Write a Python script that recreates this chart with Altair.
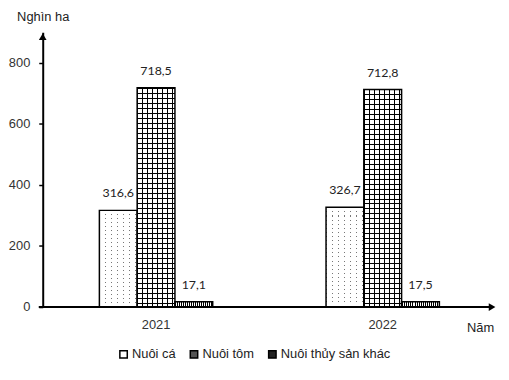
import altair as alt
import pandas as pd

years = ["2021", "2022"]
series = ["Nuôi cá", "Nuôi tôm", "Nuôi thủy sản khác"]
vals_2021 = [316.6, 718.5, 17.1]
vals_2022 = [326.7, 712.8, 17.5]
y_ticks = [0, 200, 400, 600, 800]

rows = []
for yr, vals in zip(years, [vals_2021, vals_2022]):
    for s, v in zip(series, vals):
        rows.append({"year": yr, "series": s, "value": v,
                     "label": f"{v:.1f}".replace(".", ",")})
df = pd.DataFrame(rows)

W, H = 457, 277
Y_MAX = 900
AX_FONT = "Liberation Sans"
FS = 13
BAR_W = W / 2 * 0.5 / 3  # bar width in px (band step * (1 - paddingInner) / 3)


def px_h(v):
    return v * H / Y_MAX


def stripes(period_px, line_px, size_px, line, bg, vertical):
    """Hard-stop stripes, sized in pixels for a bar of size_px."""
    p = period_px / size_px
    w = line_px / size_px
    stops = []
    a = 0.0
    while a < 1.0:
        b = min(a + w, 1.0)
        c = min(a + p, 1.0)
        stops += [alt.GradientStop(offset=round(a, 6), color=line),
                  alt.GradientStop(offset=round(b, 6), color=line),
                  alt.GradientStop(offset=round(b, 6), color=bg),
                  alt.GradientStop(offset=round(c, 6), color=bg)]
        a += p
    if vertical:
        return alt.LinearGradient(gradient="linear", stops=stops, x1=0, x2=1, y1=0, y2=0)
    return alt.LinearGradient(gradient="linear", stops=stops, x1=0, x2=0, y1=0, y2=1)


CLEAR = "rgba(255,255,255,0)"
ca_h = px_h(min(vals_2021[0], vals_2022[0]))
tom_h = px_h(min(vals_2021[1], vals_2022[1]))

base = alt.Chart(df).encode(
    x=alt.X("year:N", sort=years,
            scale=alt.Scale(paddingInner=0.5, paddingOuter=0.25),
            axis=alt.Axis(title="Năm", titleX=441, titleY=21, titleAlign="center",
                          titleBaseline="middle", titleFont=AX_FONT, titleFontSize=FS,
                          titleFontWeight="normal", titleColor="#222",
                          labelAngle=0, domain=False, ticks=False, labelPadding=12,
                          labelFont=AX_FONT, labelFontSize=FS, labelColor="#333")),
    xOffset=alt.XOffset("series:N", sort=series, scale=alt.Scale(domain=series)),
    y=alt.Y("value:Q", scale=alt.Scale(domain=[0, Y_MAX]),
            axis=alt.Axis(values=y_ticks, title="Nghìn ha", titleAngle=0, titleX=0,
                          titleY=-16, titleAlign="center", titleBaseline="middle",
                          titleFont=AX_FONT, titleFontSize=FS, titleFontWeight="normal",
                          titleColor="#222", labelFont=AX_FONT, labelFontSize=FS,
                          labelColor="#333", domainColor="black", domainWidth=2,
                          tickColor="black", tickWidth=1.5, tickSize=4, labelPadding=9,
                          grid=False)),
)

ca = base.transform_filter(alt.datum.series == series[0])
tom = base.transform_filter(alt.datum.series == series[1])
khac = base.transform_filter(alt.datum.series == series[2])

ca_a = ca.mark_bar(fill=stripes(6, 1.0, BAR_W, "#777", "white", True), strokeWidth=0)
ca_b = ca.mark_bar(fill=stripes(4, 1.0, ca_h, CLEAR, "white", False),
                   stroke="black", strokeWidth=1.5)
tom_a = tom.mark_bar(fill=stripes(5, 1.0, BAR_W, "black", "white", True), strokeWidth=0)
tom_b = tom.mark_bar(fill=stripes(5, 1.0, tom_h, "black", CLEAR, False),
                     stroke="black", strokeWidth=1.5)
khac_a = khac.mark_bar(fill=stripes(2, 1.0, BAR_W, "black", "white", True),
                       stroke="black", strokeWidth=1.5)

legend_layer = base.mark_bar(opacity=0, stroke="black", strokeWidth=1.5).encode(
    fill=alt.Fill("series:N", sort=series,
                  scale=alt.Scale(domain=series, range=["white", "#555", "#222"]),
                  legend=alt.Legend(title=None, orient="none", legendX=75, legendY=318,
                                    direction="horizontal", symbolType="square",
                                    symbolSize=56, symbolStrokeColor="black",
                                    symbolStrokeWidth=1.5, symbolOpacity=1,
                                    labelFont=AX_FONT, labelFontSize=FS, labelColor="#222",
                                    labelOffset=2, columnPadding=10))
)

labels = base.mark_text(baseline="bottom", dy=-10, font="Lato", fontSize=12.5,
                        color="#222").encode(text="label:N")

one = pd.DataFrame({"a": [0]})
x_axis_line = alt.Chart(one).mark_rule(color="black", strokeWidth=2).encode(
    x=alt.value(-4), x2=alt.value(W - 6), y=alt.value(H))
arrow_up = alt.Chart(one).mark_point(shape="triangle-up", filled=True, color="black",
                                     size=60, opacity=1).encode(
    x=alt.value(0), y=alt.value(4.5))
arrow_right = alt.Chart(one).mark_point(shape="triangle-right", filled=True, color="black",
                                        size=60, opacity=1).encode(
    x=alt.value(W - 4), y=alt.value(H))

chart = alt.layer(
    legend_layer, ca_a, ca_b, tom_a, tom_b, khac_a, labels,
    x_axis_line, arrow_up, arrow_right
).properties(
    width=W, height=H,
    padding={"left": 0, "top": 1, "right": 5, "bottom": 5},
    background="white",
).configure_view(stroke=None)

chart.save("out.html", embed_options={"renderer": "svg", "actions": False})
